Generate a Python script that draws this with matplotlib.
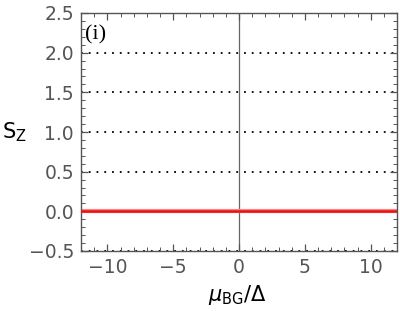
import matplotlib
matplotlib.use("Agg")
import matplotlib.pyplot as plt
from matplotlib.ticker import MultipleLocator

plt.rcParams['font.family'] = ['DejaVu Sans']
plt.rcParams['mathtext.fontset'] = 'dejavusans'

mu = [-12, -6, 0, 6, 12]
sz_main = [0, 0, 0, 0, 0]
sz_other = [0, 0, 0, 0, 0]
grid_levels = [0.5, 1.0, 1.5, 2.0, -0.5]
xticks = [-10, -5, 0, 5, 10]
yticks = [-0.5, 0.0, 0.5, 1.0, 1.5, 2.0, 2.5]

fig = plt.figure(figsize=(4.0, 3.11), dpi=100)
ax = fig.add_axes([81/400, 1-251/311, (397-81)/400, (251-13)/311])
ax.set_xlim(-12, 12)
ax.set_ylim(-0.5, 2.5)

gc = '#555555'
for g in grid_levels:
    ax.axhline(g, color='black', lw=1.3, ls=(0, (1, 3.3)), zorder=1)
ax.axvline(0, color='#666666', lw=0.9, zorder=1)

ax.plot(mu, sz_other, color='#f28888', lw=3.0, zorder=2)
ax.plot(mu, sz_main, color='#ee1111', lw=1.8, zorder=3)

ax.set_xticks(xticks)
ax.set_yticks(yticks)
ax.set_xticklabels(['\u221210', '\u22125', '0', '5', '10'])
ax.set_yticklabels(['\u22120.5', '0.0', '0.5', '1.0', '1.5', '2.0', '2.5'])
ax.xaxis.set_minor_locator(MultipleLocator(1))
ax.yaxis.set_minor_locator(MultipleLocator(0.1))
ax.tick_params(which='both', direction='in', top=True, right=True, color=gc,
               labelcolor='#555555', labelsize=13.5, pad=5)
ax.tick_params(which='major', length=5, width=0.9)
ax.tick_params(which='minor', length=3, width=0.7)
for s in ax.spines.values():
    s.set_color(gc)
    s.set_linewidth(1.0)

ax.text(-11.7, 2.22, '(i)', family='Liberation Serif', fontsize=16, color='black',
        ha='left', va='center')
fig.text(2/400, 1-132/311, r'$\mathrm{S}_{\mathrm{Z}}$', fontsize=15, ha='left', va='center')
fig.text(237/400, 1-295/311, r'$\mu_{\mathrm{BG}}/\Delta$', fontsize=15,
         ha='center', va='center')
fig.savefig('out.png', dpi=100)
